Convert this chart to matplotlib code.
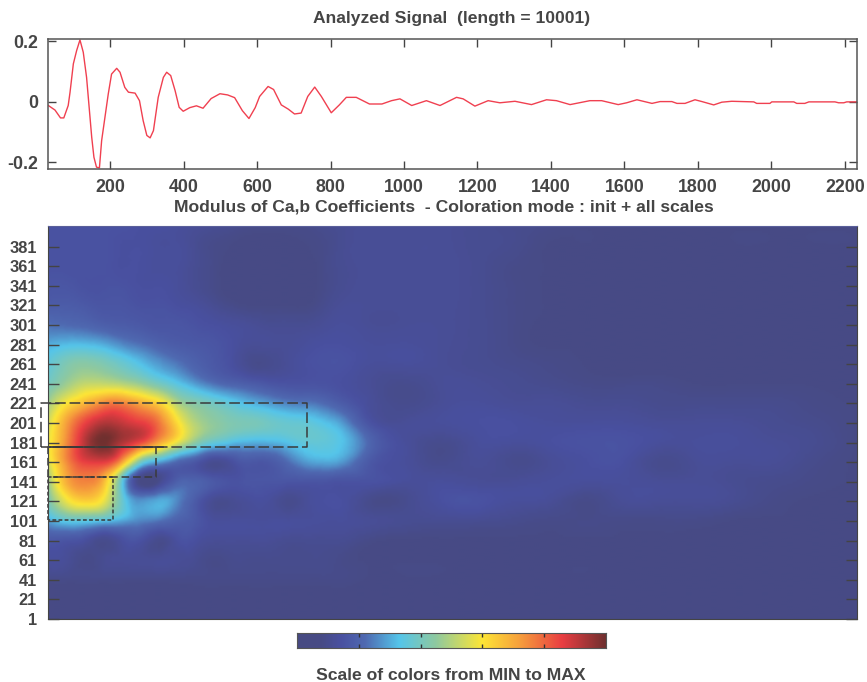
import numpy as np
import matplotlib
matplotlib.use('Agg')
import matplotlib.pyplot as plt
import matplotlib.tri as mtri
from matplotlib.colors import LinearSegmentedColormap

W, H = 867, 682
plt.rcParams['font.family'] = ['Liberation Sans', 'DejaVu Sans']
TXT = '#454545'

# signal
sig_x = [32, 50, 65, 74, 86, 91, 100, 109, 118, 127, 136, 143, 150, 156, 163, 171, 177, 186, 195, 204, 218, 227, 240,
         250, 268, 280, 290, 300, 309, 318, 331, 345, 354, 365, 377, 388, 399, 417, 435, 453, 475, 499, 520, 539, 560,
         578, 595, 607, 630, 645, 666, 685, 702, 720, 738, 757, 775, 802, 824, 843, 870, 906, 940, 966, 989, 1021,
         1061, 1098, 1143, 1161, 1193, 1229, 1261, 1302, 1347, 1388, 1415, 1452, 1506, 1538, 1583, 1606, 1634, 1675,
         1697, 1729, 1743, 1765, 1792, 1811, 1843, 1865, 1892, 1952, 1960, 1996, 2001, 2061, 2069, 2091, 2102, 2173,
         2183, 2197, 2205, 2233]
sig_y = [-.013, -.028, -.054, -.054, -.013, .031, .125, .169, .204, .163, .080, -.019, -.118, -.184, -.217, -.219,
         -.129, -.052, .025, .091, .110, .097, .047, .031, .028, .003, -.063, -.112, -.120, -.096, .014, .080, .097,
         .086, .036, -.019, -.032, -.020, -.014, -.022, .010, .026, .022, .013, -.030, -.056, -.020, .017, .050, .040,
         -.011, -.025, -.041, -.038, .017, .048, .017, -.037, -.011, .014, .014, -.008, -.008, .003, .009, -.013,
         .003, -.013, .014, .009, -.015, .003, -.004, .001, -.010, .006, .003, -.010, .003, .003, -.010, -.004, .006,
         -.006, 0, 0, -.006, -.006, .006, 0, -.011, -.002, .001, -.001, -.006, -.006, -.001, -.001, -.006, -.006,
         -.001, -.001, -.004, -.004, -.001, -.001]

top_xticks = [200, 400, 600, 800, 1000, 1200, 1400, 1600, 1800, 2000, 2200]
top_yticks = [-0.2, 0, 0.2]
top_ylabels = ['-0.2', '0', '0.2']

# scale ticks of the lower panel
scale_ticks = list(range(1, 382, 20))

# modulus map, percent of max
grid_x = [31, 80, 130, 180, 230, 280, 330, 380, 430, 480, 530, 580, 630, 680, 730, 780, 830, 900, 1000, 1100, 1200,
          1300, 1400, 1500, 1600, 1700, 1800, 1900, 2000, 2100, 2233]
grid_y = list(range(401, 0, -20))
grid_z = [
    [15, 15, 15, 15, 15, 14, 14, 13, 12, 11, 10, 9, 9, 9, 9, 10, 11, 12, 12, 12, 11, 10, 9, 8, 8, 8, 8, 8, 8, 8, 8],
    [15, 15, 15, 15, 14, 14, 13, 13, 11, 9, 8, 7, 7, 7, 8, 9, 11, 12, 12, 12, 11, 10, 8, 8, 7, 7, 7, 8, 8, 8, 8],
    [15, 15, 15, 15, 14, 14, 13, 13, 11, 9, 7, 7, 7, 7, 7, 9, 11, 12, 12, 12, 11, 9, 8, 7, 7, 7, 7, 7, 7, 7, 7],
    [16, 16, 15, 15, 15, 14, 14, 13, 11, 9, 7, 7, 7, 7, 7, 9, 11, 12, 12, 12, 11, 9, 8, 7, 7, 7, 7, 7, 7, 7, 7],
    [18, 18, 17, 16, 16, 15, 15, 14, 13, 11, 9, 8, 8, 8, 8, 10, 12, 12, 12, 12, 11, 9, 8, 7, 7, 7, 7, 7, 7, 7, 7],
    [23, 22, 21, 19, 18, 17, 16, 16, 15, 14, 13, 12, 11, 11, 11, 12, 13, 12, 12, 12, 11, 9, 8, 8, 7, 7, 7, 7, 7, 7, 7],
    [30, 32, 32, 30, 26, 23, 20, 18, 17, 16, 14, 12, 12, 12, 13, 14, 14, 13, 13, 12, 11, 9, 8, 8, 7, 7, 7, 7, 7, 7, 7],
    [36, 42, 44, 42, 38, 33, 28, 24, 20, 17, 14, 10, 10, 12, 14, 15, 15, 13, 13, 12, 11, 10, 9, 8, 7, 7, 7, 7, 7, 7, 7],
    [40, 47, 52, 52, 50, 46, 40, 34, 28, 23, 20, 18, 16, 15, 15, 15, 14, 12, 10, 12, 12, 11, 10, 9, 9, 9, 8, 8, 8, 8, 7],
    [48, 60, 68, 75, 76, 70, 63, 50, 43, 39, 35, 31, 28, 25, 24, 22, 18, 13, 10, 12, 13, 12, 12, 11, 11, 10, 10, 10, 10, 9, 8],
    [55, 72, 85, 92, 90, 86, 78, 62, 50, 45, 42, 41, 39, 37, 36, 33, 28, 16, 12, 13, 14, 14, 13, 13, 13, 12, 12, 12, 11, 10, 8],
    [58, 75, 92, 100, 93, 85, 72, 58, 45, 37, 33, 31, 31, 33, 36, 36, 33, 22, 13, 10, 13, 13, 14, 15, 15, 13, 13, 13, 12, 11, 8],
    [56, 75, 86, 87, 72, 42, 30, 22, 17, 11, 14, 17, 17, 22, 28, 30, 28, 18, 13, 10, 12, 10, 12, 14, 14, 10, 12, 12, 12, 10, 8],
    [48, 70, 76, 68, 36, 7, 9, 19, 20, 17, 15, 16, 16, 16, 16, 16, 15, 15, 13, 13, 12, 12, 13, 13, 13, 12, 12, 11, 10, 9, 8],
    [42, 58, 64, 58, 38, 27, 30, 26, 18, 11, 11, 13, 13, 10, 12, 14, 14, 10, 10, 14, 15, 13, 12, 9, 12, 12, 12, 11, 9, 8, 8],
    [30, 36, 36, 34, 30, 26, 24, 20, 17, 13, 13, 13, 13, 13, 13, 13, 13, 12, 11, 11, 11, 10, 9, 9, 9, 9, 9, 8, 8, 8, 8],
    [17, 16, 14, 10, 14, 15, 10, 14, 14, 12, 12, 12, 12, 11, 11, 11, 11, 9, 8, 8, 8, 8, 8, 8, 8, 8, 8, 8, 8, 8, 8],
    [13, 12, 9, 11, 12, 12, 12, 12, 11, 9, 10, 10, 10, 10, 10, 10, 9, 8, 8, 8, 8, 8, 8, 8, 8, 8, 8, 8, 8, 8, 8],
    [9, 9, 9, 9, 9, 9, 9, 9, 9, 9, 9, 9, 9, 9, 9, 9, 9, 8, 8, 8, 8, 8, 8, 8, 8, 8, 8, 8, 8, 8, 8],
    [7, 7, 7, 7, 7, 7, 7, 7, 7, 7, 7, 7, 7, 7, 7, 7, 7, 7, 7, 7, 7, 7, 7, 7, 7, 7, 7, 7, 7, 7, 7],
    [7, 7, 7, 7, 7, 7, 7, 7, 7, 7, 7, 7, 7, 7, 7, 7, 7, 7, 7, 7, 7, 7, 7, 7, 7, 7, 7, 7, 7, 7, 7],
]

# dashed selection boxes (x0, x1, scale0, scale1)
box_x0 = [12, 31, 31]
box_x1 = [736, 325, 208]
box_y0 = [176, 146, 102]
box_y1 = [221, 176, 146]
box_dash = [(0, (7, 2.5)), (0, (5, 2.5)), (0, (2.5, 1.5))]
# solid stretch along the bottom of the long box
solid_x = [12, 345]
solid_y = [176, 176]

cmap_stops = [(0, '#474a82'), (.08, '#474b86'), (.14, '#4950a0'), (.22, '#4f69b1'), (.33, '#55c5ea'), (.45, '#8fc99f'),
              (.6, '#fde636'), (.72, '#f6a03c'), (.86, '#e93d42'), (1, '#70302f')]


def ax_px(l, t, r, b):
    return [l / W, 1 - b / H, (r - l) / W, (b - t) / H]


cmap = LinearSegmentedColormap.from_list('scale', cmap_stops, N=256)
fig = plt.figure(figsize=(W / 100, H / 100), dpi=100)

# top panel
ax = fig.add_axes(ax_px(48, 39, 857, 169))
ax.plot(sig_x, sig_y, color='#f04050', lw=1.0)
ax.set_xlim(31, 2233)
ax.set_ylim(-.223, .207)
ax.set_xticks(top_xticks)
ax.set_yticks(top_yticks, top_ylabels)
ax.tick_params(direction='in', length=6, width=1, top=True, right=True, color='#444444', labelcolor=TXT, pad=7)
for lab in ax.get_xticklabels() + ax.get_yticklabels():
    lab.set_fontsize(12.8)
    lab.set_fontweight('bold')
for s in ax.spines.values():
    s.set_color('#555555')
    s.set_linewidth(1.1)
fig.text(452 / W, 1 - 19 / H, 'Analyzed Signal  (length = 10001)', ha='center', va='center', color=TXT,
         fontsize=12.6, fontweight='bold')
fig.text(444 / W, 1 - 207 / H, 'Modulus of Ca,b Coefficients  - Coloration mode : init + all scales', ha='center',
         va='center', color=TXT, fontsize=12.6, fontweight='bold')

# map panel
ax2 = fig.add_axes(ax_px(48, 226, 857, 619))
gx, gy = np.meshgrid(grid_x, grid_y)
tri = mtri.Triangulation(gx.ravel().astype(float), gy.ravel().astype(float))
interp = mtri.CubicTriInterpolator(tri, np.array(grid_z, dtype=float).ravel() / 100, kind='min_E')
fx = np.linspace(31, 2233, 405)
fy = np.linspace(1, 401, 200)
fxx, fyy = np.meshgrid(fx, fy)
ax2.imshow(np.clip(interp(fxx, fyy), 0, 1), extent=[31, 2233, 1, 401], origin='lower', aspect='auto', cmap=cmap,
           vmin=0, vmax=1, interpolation='bilinear')
ax2.set_xlim(31, 2233)
ax2.set_ylim(1, 402)
ax2.set_xticks([])
ax2.set_yticks(scale_ticks)
ax2.tick_params(direction='in', length=8, width=1, right=True, color='#444444', labelcolor=TXT, pad=8)
for lab in ax2.get_yticklabels():
    lab.set_fontsize(11.8)
    lab.set_fontweight('bold')
for name, s in ax2.spines.items():
    s.set_color('#444444' if name in ('bottom', 'left', 'right') else '#5a5f9a')
for x0, x1, y0, y1, ds in zip(box_x0, box_x1, box_y0, box_y1, box_dash):
    ax2.plot([x0, x0, x1, x1, x0], [y0, y1, y1, y0, y0], color='#3a3a3a', lw=1.1, ls=ds, clip_on=False)
ax2.plot(solid_x, solid_y, color='#3a3a3a', lw=1.2)

# colour scale
cax = fig.add_axes(ax_px(297, 633, 606, 648))
cax.imshow(np.linspace(0, 1, 256)[None, :], extent=[0, 1, 0, 1], aspect='auto', cmap=cmap, vmin=0, vmax=1)
cax.set_xticks([1 / 5, 2 / 5, 3 / 5, 4 / 5])
cax.set_xticklabels([])
cax.set_yticks([])
cax.tick_params(direction='in', length=3, width=1, top=True, color='#333333')
for s in cax.spines.values():
    s.set_color('#555555')
fig.text(451 / W, 1 - 675 / H, 'Scale of colors from MIN to MAX', ha='center', va='center', color=TXT,
         fontsize=12.6, fontweight='bold')

fig.savefig('out.png', dpi=100)
